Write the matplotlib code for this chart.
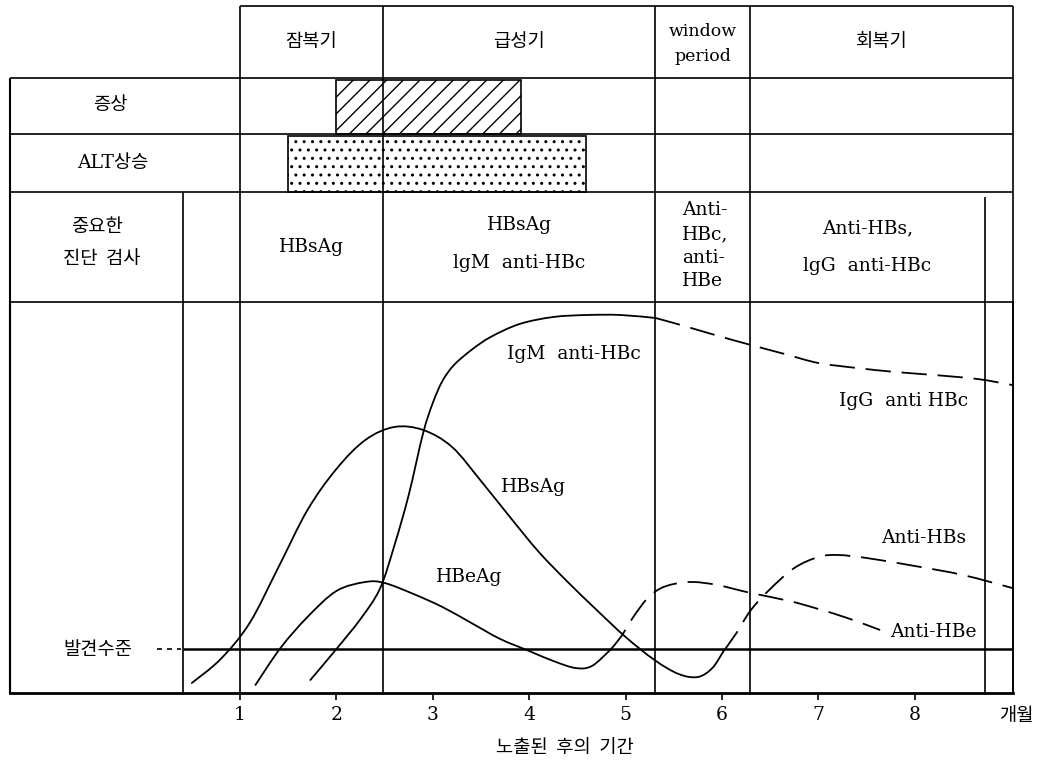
import matplotlib
matplotlib.use('Agg')
import matplotlib.pyplot as plt
from matplotlib.patches import Rectangle, PathPatch
from matplotlib.path import Path

plt.rcParams['hatch.linewidth'] = 1.0

W, H, DPI = 1044, 765, 100

# ---------------- data (months, relative level) ----------------
hbsag_m = [0.50, 0.80, 1.10, 1.40, 1.70, 2.00, 2.30, 2.60, 2.90, 3.20, 3.50, 3.80, 4.10, 4.40, 4.70, 5.00, 5.30, 5.55, 5.75, 5.90, 6.01]
hbsag_v = [1.0, 3.4, 7.0, 12.6, 18.3, 22.4, 25.3, 26.6, 26.3, 24.6, 21.2, 17.6, 14.1, 11.1, 8.3, 5.6, 3.3, 1.9, 1.6, 2.5, 4.1]

anti_hbs_m = [6.01, 6.15, 6.30, 6.50, 6.75, 7.00, 7.20, 7.50, 8.00, 8.50, 9.01]
anti_hbs_v = [4.1, 6.0, 8.3, 10.4, 12.5, 13.6, 13.8, 13.5, 12.7, 11.8, 10.5]

hbeag_m = [1.16, 1.42, 1.70, 2.00, 2.30, 2.50, 2.80, 3.10, 3.40, 3.70, 4.00, 4.25, 4.48, 4.65, 4.84]
hbeag_v = [0.8, 4.5, 7.6, 10.2, 11.1, 11.0, 9.9, 8.6, 7.0, 5.4, 4.2, 3.2, 2.5, 2.7, 4.3]

anti_hbe_m = [4.84, 4.95, 5.08, 5.22, 5.35, 5.50, 5.70, 5.95, 6.30, 6.70, 7.00, 7.30, 7.64]
anti_hbe_v = [4.3, 5.6, 7.6, 9.4, 10.4, 10.9, 11.1, 10.8, 10.0, 9.2, 8.4, 7.5, 6.3]

igm_m = [1.73, 2.00, 2.25, 2.45, 2.60, 2.75, 2.90, 3.00, 3.10, 3.22, 3.40, 3.60, 3.90, 4.25, 4.60, 4.95, 5.31]
igm_v = [1.3, 4.4, 7.4, 10.4, 14.7, 19.8, 26.0, 29.0, 31.2, 32.8, 34.3, 35.6, 36.9, 37.6, 37.8, 37.8, 37.5]

igg_m = [5.31, 5.50, 5.75, 6.00, 6.30, 6.65, 7.00, 7.40, 7.80, 8.20, 8.65, 9.01]
igg_v = [37.5, 37.0, 36.3, 35.6, 34.8, 33.9, 33.0, 32.5, 32.1, 31.8, 31.4, 30.8]

detect_level = 4.4

month_ticks = [1, 2, 3, 4, 5, 6, 7, 8]
month_labels = ['1', '2', '3', '4', '5', '6', '7', '8']

phase_names = ['잠복기', '급성기', 'window\nperiod', '회복기']
phase_bounds = [1.0, 2.48, 5.31, 6.29, 9.02]      # months
symptom_span = (2.0, 3.91)
alt_span = (1.50, 4.59)

# ---------------- layout helpers ----------------
def mx(px):
    return 1 + (px - 240) / 96.4


def smooth_path(xs, ys):
    """Catmull-Rom spline through the read points, as cubic Bezier path."""
    pts = list(zip(xs, ys))
    n = len(pts)
    verts = [pts[0]]
    codes = [Path.MOVETO]
    for i in range(n - 1):
        p0 = pts[i - 1] if i > 0 else pts[i]
        p1 = pts[i]
        p2 = pts[i + 1]
        p3 = pts[i + 2] if i + 2 < n else pts[i + 1]
        c1 = (p1[0] + (p2[0] - p0[0]) / 6, p1[1] + (p2[1] - p0[1]) / 6)
        c2 = (p2[0] - (p3[0] - p1[0]) / 6, p2[1] - (p3[1] - p1[1]) / 6)
        verts += [c1, c2, p2]
        codes += [Path.CURVE4] * 3
    return Path(verts, codes)


LAT = ['DejaVu Serif', 'Noto Sans CJK KR']
KR = ['Noto Sans CJK KR', 'DejaVu Sans']
FS = 13.5
LW = 1.2

fig = plt.figure(figsize=(W / DPI, H / DPI), dpi=DPI)
ax = fig.add_axes([0, 0, 1, 1])
ax.set_xlim(mx(0), mx(W))
ax.set_ylim(H, 0)
ax.axis('off')

# hatched boxes
ax.add_patch(Rectangle((symptom_span[0], 80), symptom_span[1] - symptom_span[0], 54,
                       facecolor='white', edgecolor='black', hatch='//', lw=LW))
ax.add_patch(Rectangle((alt_span[0], 136), alt_span[1] - alt_span[0], 56,
                       facecolor='white', edgecolor='black', hatch='..', lw=LW))

left = mx(10)
right = phase_bounds[-1]
ax.hlines(6, phase_bounds[0], right, color='black', lw=LW)
for y in [78, 134, 192]:
    ax.hlines(y, left, right, color='black', lw=LW)
ax.vlines(left, 78, 693, color='black', lw=1.5)
ax.vlines(mx(183), 192, 693, color='black', lw=LW)
for b in phase_bounds:
    ax.vlines(b, 6, 693, color='black', lw=LW)
ax.vlines(mx(985), 197, 693, color='black', lw=LW)

for i, name in enumerate(phase_names):
    cx = (phase_bounds[i] + phase_bounds[i + 1]) / 2
    if '\n' in name:
        a, b = name.split('\n')
        ax.text(cx, 31, a, ha='center', va='center', fontsize=FS - 1, family=LAT)
        ax.text(cx, 56, b, ha='center', va='center', fontsize=FS - 1, family=LAT)
    else:
        ax.text(cx, 41, name, ha='center', va='center', fontsize=FS, family=KR)

ax.text(mx(110), 104, '증상', ha='center', va='center', fontsize=FS, family=KR)
ax.text(mx(113), 163, 'ALT상승', ha='center', va='center', fontsize=FS, family=LAT)
ax.text(mx(97), 226, '중요한', ha='center', va='center', fontsize=FS, family=KR)
ax.text(mx(102), 258, '진단  검사', ha='center', va='center', fontsize=FS, family=KR)

ax.text((phase_bounds[0] + phase_bounds[1]) / 2, 247, 'HBsAg', ha='center', va='center', fontsize=FS, family=LAT)
c2 = (phase_bounds[1] + phase_bounds[2]) / 2
ax.text(c2, 225, 'HBsAg', ha='center', va='center', fontsize=FS, family=LAT)
ax.text(c2, 263, 'lgM  anti-HBc', ha='center', va='center', fontsize=FS, family=LAT)
for t, y in zip(['Anti-', 'HBc,', 'anti-', 'HBe'], [210, 234, 258, 281]):
    ax.text(mx(682), y, t, ha='left', va='center', fontsize=FS, family=LAT)
c4 = (phase_bounds[3] + mx(985)) / 2
ax.text(c4, 228, 'Anti-HBs,', ha='center', va='center', fontsize=FS, family=LAT)
ax.text(c4, 266, 'lgG  anti-HBc', ha='center', va='center', fontsize=FS, family=LAT)

# ---------------- plot area ----------------
ax2 = fig.add_axes([10 / W, (H - 693) / H, (1013 - 10) / W, (693 - 302) / H])
ax2.set_xlim(mx(10), mx(1013))
ax2.set_ylim(0, 39.1)
ax2.patch.set_alpha(0)
for s in ['top', 'right']:
    ax2.spines[s].set_linewidth(LW)
ax2.spines['left'].set_linewidth(1.5)
ax2.spines['bottom'].set_linewidth(2.0)
ax2.set_yticks([])
ax2.set_xticks(month_ticks)
ax2.set_xticklabels(month_labels, fontsize=FS, family=LAT)
ax2.tick_params(axis='x', direction='out', length=5, width=1.2, pad=4)

solid = dict(facecolor='none', edgecolor='black', lw=1.3, capstyle='round')
dashed = dict(facecolor='none', edgecolor='black', lw=1.3, linestyle=(0, (14, 6)))
ax2.add_patch(PathPatch(smooth_path(hbsag_m, hbsag_v), **solid))
ax2.add_patch(PathPatch(smooth_path(anti_hbs_m, anti_hbs_v), **dashed))
ax2.add_patch(PathPatch(smooth_path(hbeag_m, hbeag_v), **solid))
ax2.add_patch(PathPatch(smooth_path(anti_hbe_m, anti_hbe_v), **dashed))
ax2.add_patch(PathPatch(smooth_path(igm_m, igm_v), **solid))
ax2.add_patch(PathPatch(smooth_path(igg_m, igg_v), **dashed))

ax2.hlines(detect_level, mx(183), mx(1013), color='black', lw=1.8)
ax2.plot([mx(157), mx(181)], [detect_level, detect_level], color='black', lw=1.2, linestyle=(0, (3, 3)))
ax2.text(mx(98), detect_level, '발견수준', ha='center', va='center', fontsize=FS, family=KR)

ax2.text(mx(574), (693 - 354) / 10, 'IgM  anti-HBc', ha='center', va='center', fontsize=FS, family=LAT)
ax2.text(mx(904), (693 - 401) / 10, 'IgG  anti HBc', ha='center', va='center', fontsize=FS, family=LAT)
ax2.text(mx(533), (693 - 487) / 10, 'HBsAg', ha='center', va='center', fontsize=FS, family=LAT)
ax2.text(mx(469), (693 - 577) / 10, 'HBeAg', ha='center', va='center', fontsize=FS, family=LAT)
ax2.text(mx(924), (693 - 538) / 10, 'Anti-HBs', ha='center', va='center', fontsize=FS, family=LAT)
ax2.text(mx(933), (693 - 632) / 10, 'Anti-HBe', ha='center', va='center', fontsize=FS, family=LAT)

ax.text(mx(1016), 716, '개월', ha='center', va='center', fontsize=FS, family=KR)
ax.text(mx(565), 747, '노출된  후의  기간', ha='center', va='center', fontsize=FS, family=KR)

fig.savefig('out.png', dpi=DPI)
